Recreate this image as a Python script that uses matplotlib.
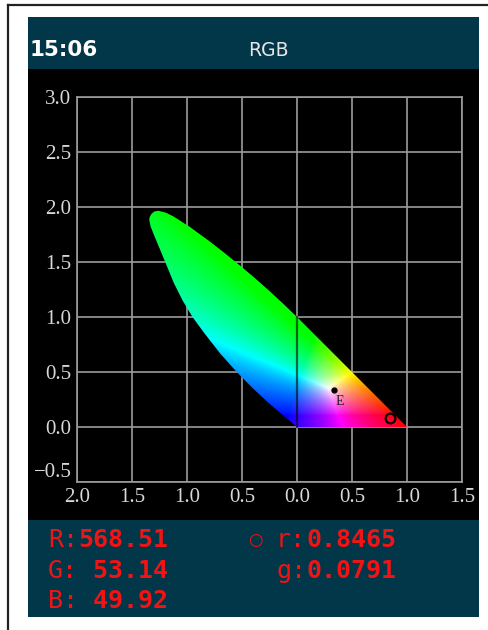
import numpy as np
import matplotlib
matplotlib.use('Agg')
import matplotlib.pyplot as plt
from matplotlib.patches import Rectangle, Polygon
from matplotlib.lines import Line2D

# outline of the colour area (rg chromaticity)
locus_r = [1.0, 0.0, -0.13, -0.26, -0.39, -0.518, -0.66, -0.80, -0.973, -1.124, -1.19, -1.261, -1.30,
           -1.325, -1.341, -1.343, -1.33, -1.30, -1.25, -1.19, -1.12, -1.04, -0.95, -0.84, -0.70,
           -0.548, -0.40, -0.26, -0.12, 0.0]
locus_g = [0.0, 1.0, 1.125, 1.245, 1.36, 1.468, 1.583, 1.692, 1.818, 1.915, 1.948, 1.966, 1.958,
           1.935, 1.905, 1.88, 1.82, 1.745, 1.625, 1.48, 1.31, 1.15, 1.0, 0.85, 0.67,
           0.5, 0.35, 0.22, 0.10, 0.0]
white_r, white_g = 1/3, 1/3   # equal energy point E
meas_r, meas_g = 0.8465, 0.0791
tristim_names = ['R', 'G', 'B']
tristim_vals = [568.51, 53.14, 49.92]
xtick_vals = [-2.0, -1.5, -1.0, -0.5, 0.0, 0.5, 1.0, 1.5]
xtick_labels = ['2.0', '1.5', '1.0', '0.5', '0.0', '0.5', '1.0', '1.5']
ytick_vals = [-0.5, 0.0, 0.5, 1.0, 1.5, 2.0, 2.5, 3.0]
ytick_labels = ['\u22120.5', '0.0', '0.5', '1.0', '1.5', '2.0', '2.5', '3.0']
clock = '15:06'
mode = 'RGB'

W, H = 488, 630
teal = '#023649'
red = '#f01414'
fig = plt.figure(figsize=(W/100, H/100), dpi=100, facecolor='white')

def box(x0, y0, x1, y1, color):  # pixel coords, y from top
    fig.add_artist(Rectangle((x0/W, 1-y1/H), (x1-x0)/W, (y1-y0)/H, transform=fig.transFigure,
                             facecolor=color, edgecolor='none', zorder=0))

def px(x, y):
    return x/W, 1-y/H

# outer frame (only top and left visible)
fig.add_artist(Line2D([8/W, 1], [1-5/H, 1-5/H], transform=fig.transFigure, color='#222222', lw=1.6))
fig.add_artist(Line2D([8/W, 8/W], [0, 1-5/H], transform=fig.transFigure, color='#222222', lw=1.6))
box(28, 17, 479, 69, teal)
box(28, 69, 479, 520, 'black')
box(28, 520, 479, 617, teal)

fig.text(*px(30, 50), clock, color='white', fontsize=15.5, fontweight='bold', va='center', ha='left',
         family='DejaVu Sans')
fig.text(*px(268, 50), mode, color='#e6e6e6', fontsize=13.5, va='center', ha='center', family='DejaVu Sans')

ax = fig.add_axes([77/W, 1-482/H, 385/W, 385/H])
ax.set_facecolor('black')
ax.set_xticks(xtick_vals, labels=xtick_labels)
ax.set_yticks(ytick_vals, labels=ytick_labels)
ax.tick_params(length=0, colors='#d8d8d8', labelsize=15, pad=4)
for lbl in ax.get_xticklabels() + ax.get_yticklabels():
    lbl.set_family('Liberation Serif')
ax.get_yticklabels()[0].set_va('bottom')
ax.grid(True, color='#9c9c9c', lw=1.2)
ax.set_axisbelow(True)
for s in ax.spines.values():
    s.set_color('#9c9c9c')
    s.set_linewidth(1.2)

# colour fill: CIE RGB -> XYZ -> sRGB, clipped and normalised
rr, gg = np.meshgrid(np.linspace(-1.4, 1.05, 500), np.linspace(-0.05, 2.02, 500))
bb = 1 - rr - gg
cie = np.stack([rr, gg, bb], axis=-1)
to_xyz = np.array([[0.49, 0.31, 0.20], [0.17697, 0.81240, 0.01063], [0.0, 0.01, 0.99]])
to_srgb = np.array([[3.2406, -1.5372, -0.4986], [-0.9689, 1.8758, 0.0415], [0.0557, -0.2040, 1.0570]])
lin = cie @ to_xyz.T @ to_srgb.T
lin = np.clip(lin, 0, None)
lin = lin / lin.max(axis=-1, keepdims=True)
img = lin ** 0.75
im = ax.imshow(img, extent=[-1.4, 1.05, -0.05, 2.02], origin='lower', interpolation='bilinear',
               zorder=2, aspect='auto')
poly = Polygon(np.column_stack([locus_r, locus_g]), closed=True, facecolor='none', edgecolor='none',
               transform=ax.transData)
im.set_clip_path(poly)
ax.set_xlim(-2.0, 1.5)
ax.set_ylim(-0.5, 3.0)

ax.plot([0, 0], [0, 1], color='black', alpha=0.6, lw=1.6, zorder=3)
ax.plot(white_r, white_g, 'o', color='black', ms=3.5, zorder=4)
ax.text(white_r + 0.06, white_g - 0.10, 'E', color='#202020', fontsize=10, va='center', ha='center',
        family='Liberation Serif', zorder=4)
ax.plot(meas_r, meas_g, 'o', mfc='none', mec='black', ms=7, mew=1.6, zorder=4)

# readout panel
rows = [540, 571, 601]
for i in range(3):
    lab = tristim_names[i] + ':'
    fig.text(*px(48, rows[i]), lab, color=red, fontsize=18, va='center', family='DejaVu Sans Mono')
    fig.text(*px(48 + 2*15.05, rows[i]), '{:6.2f}'.format(tristim_vals[i]), color=red, fontsize=18,
             va='center', family='DejaVu Sans Mono', fontweight='bold')
fig.text(*px(255, 540), '\u25cb', color=red, fontsize=12, va='center', ha='center', family='DejaVu Sans')
for lab, val, y in [('r:', meas_r, 540), ('g:', meas_g, 571)]:
    fig.text(*px(276, y), lab, color=red, fontsize=18, va='center', family='DejaVu Sans Mono')
    fig.text(*px(276 + 2*15.05, y), '{:.4f}'.format(val), color=red, fontsize=18, va='center',
             family='DejaVu Sans Mono', fontweight='bold')

fig.savefig('out.png', dpi=100, facecolor='white')
